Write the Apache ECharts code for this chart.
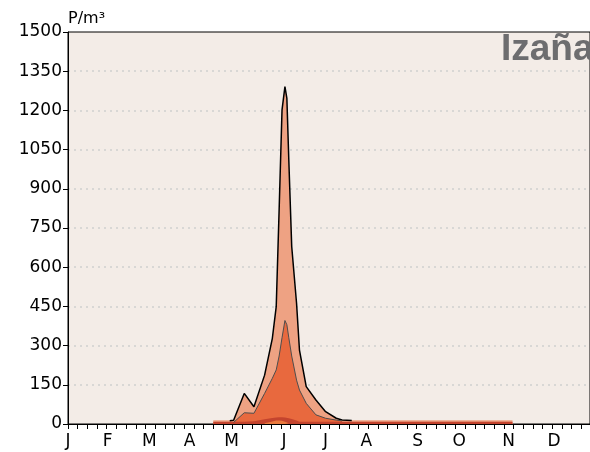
<!DOCTYPE html>
<html>
<head>
<meta charset="utf-8">
<script src="https://cdn.jsdelivr.net/npm/echarts@6/dist/echarts.min.js"></script>
<style>
  html, body { margin: 0; padding: 0; background: #fff; }
  #chart { width: 590px; height: 452px; }
</style>
</head>
<body>
<div id="chart"></div>
<script>
// x positions in week units (0 = start of January)
var weeks = [15.0, 16.7, 17.1, 18.2, 19.2, 20.3, 21.1, 21.5, 21.8, 22.1, 22.4, 22.6, 22.8, 23.1, 23.6, 23.9, 24.6, 25.6, 26.6, 27.7, 28.3, 29.3, 45.9];

/* outer peak (light salmon, black outline) */
var peakMax = [null, 12, 14, 117, 66, 187, 328, 449, 819, 1202, 1291, 1246, 1010, 679, 462, 283, 143, 92, 47, 22, 15, 13, null];
/* middle layer (orange, gray outline) */
var peakMid = [null, null, 6, 43, 41, 117, 175, 207, 260, 330, 396, 380, 330, 260, 168, 130, 79, 35, 22, 15, 12, null, null];
/* season band */
var bandTop = [14, 14, 14, 14, 14, 14, 14, 14, 14, 14, 14, 14, 14, 14, 14, 14, 14, 14, 14, 14, 14, 14, 14];
var bandLow = [9, 9, 9, 9, 11, 18, 23, 25, 26, 26, 25, 24, 22, 19, 13, 9, 9, 9, 9, 9, 9, 9, 9];
var bandInner = [null, null, null, null, null, 3, 10, 13, 13, 12, 9, 6, 3, null, null, null, null, null, null, null, null, null, null];

var monthLabels = ['J', 'F', 'M', 'A', 'M', 'J', 'J', 'A', 'S', 'O', 'N', 'D'];
var monthPos = [0, 4.1, 8.4, 12.55, 16.9, 22.3, 26.6, 30.8, 36.1, 40.4, 45.5, 50.2];

function pairs(vals) {
  return weeks.map(function (w, i) { return [w, vals[i]]; });
}

var weekTicks = [];
for (var i = 0; i <= 53; i++) weekTicks.push(i);

var chart = echarts.init(document.getElementById('chart'));

function area(vals, fill, lineColor, lineWidth) {
  return {
    type: 'line',
    data: pairs(vals),
    showSymbol: false,
    silent: true,
    animation: false,
    lineStyle: { color: lineColor || fill, width: lineWidth || 0 },
    areaStyle: { color: fill, opacity: 1 },
    itemStyle: { color: fill }
  };
}

chart.setOption({
  animation: false,
  grid: {
    left: 68, right: -3, top: 32, bottom: 28,
    show: true,
    backgroundColor: '#f3ece7',
    borderColor: '#000',
    borderWidth: 1
  },
  xAxis: {
    type: 'value',
    min: 0,
    max: 53.9,
    axisLine: { lineStyle: { color: '#000', width: 1 } },
    axisTick: { show: true, customValues: weekTicks, length: 5, lineStyle: { color: '#000' } },
    axisLabel: {
      customValues: monthPos,
      margin: 9,
      color: '#000',
      fontSize: 17,
      fontFamily: 'DejaVu Sans',
      formatter: function (v) {
        var k = monthPos.indexOf(v);
        return k >= 0 ? monthLabels[k] : '';
      }
    },
    splitLine: { show: false }
  },
  yAxis: {
    type: 'value',
    min: 0,
    max: 1500,
    interval: 150,
    axisLine: { show: true, lineStyle: { color: '#000' } },
    axisTick: { show: true, length: 5, lineStyle: { color: '#000' } },
    axisLabel: {
      color: '#000', fontSize: 17, fontFamily: 'DejaVu Sans', margin: 6,
      formatter: function (v) { return String(v); }
    },
    splitLine: {
      show: true, showMaxLine: false, showMinLine: false,
      lineStyle: { color: '#cfcfcf', type: [2, 4], width: 1.5 }
    }
  },
  graphic: [
    {
      type: 'text', left: 68, top: 11,
      style: { text: 'P/m³', fill: '#000', font: '16px "DejaVu Sans"' }
    },
    {
      type: 'text', x: 501, y: 31,
      style: { text: 'Izaña', fill: '#6d6d6f', font: 'bold 37px "Liberation Sans"', verticalAlign: 'top' }
    }
  ],
  series: [
    area(bandTop, '#eea283'),
    area(peakMax, '#eea283', '#000', 1.5),
    area(peakMid, '#e8693e', '#4d4d4d', 1),
    area(bandLow, '#c4442e'),
    area(bandInner, '#ea7a3e')
  ]
});
</script>
</body>
</html>
